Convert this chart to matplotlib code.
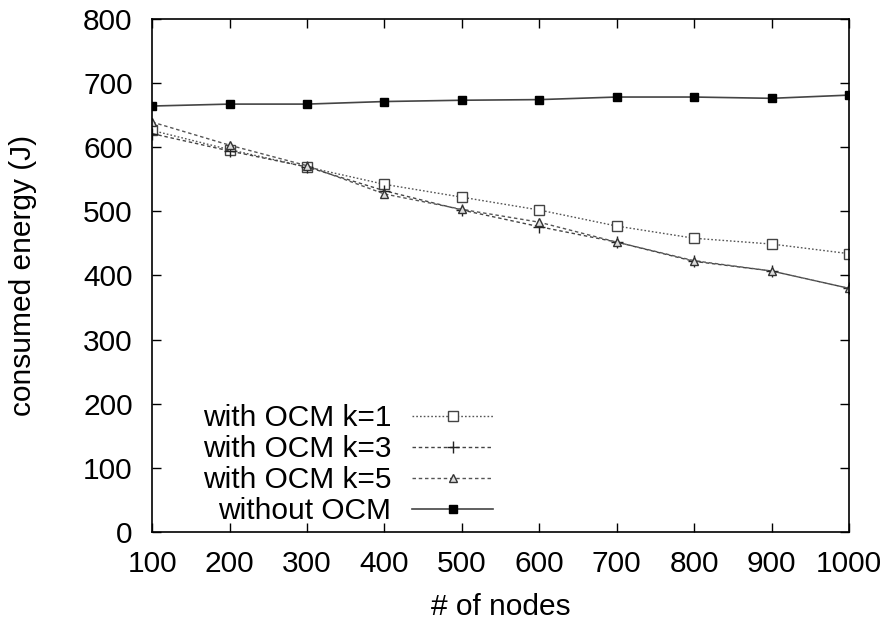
import matplotlib
matplotlib.use("Agg")
import matplotlib.pyplot as plt

plt.rcParams['font.family'] = ['Liberation Sans', 'DejaVu Sans']

nodes = [100, 200, 300, 400, 500, 600, 700, 800, 900, 1000]
ocm_k1 = [626, 596, 569, 542, 522, 502, 477, 458, 449, 434]
ocm_k3 = [621, 594, 569, 532, 502, 476, 452, 422, 407, 380]
ocm_k5 = [639, 603, 571, 527, 503, 483, 452, 423, 407, 380]
no_ocm = [664, 667, 667, 671, 673, 674, 678, 678, 676, 681]

xticks = list(range(100, 1001, 100))
yticks = list(range(0, 801, 100))

fs = 21.5

fig = plt.figure(figsize=(8.9, 6.24), dpi=100)
ax = fig.add_axes([0.171, 0.147, 0.783, 0.823])

ax.plot(nodes, ocm_k1, color="#555555", lw=1.0, ls=(0, (1.2, 1.5)),
        marker="s", ms=7, mfc="white", mec="#444444", mew=1.0, label="with OCM k=1")
ax.plot(nodes, ocm_k3, color="#444444", lw=1.0, ls=(0, (2.5, 2)),
        marker="+", ms=8, mec="#222222", mew=1.0, label="with OCM k=3")
ax.plot(nodes, ocm_k5, color="#555555", lw=1.0, ls=(0, (2.5, 2)),
        marker="^", ms=6, mfc="#dddddd", mec="#333333", mew=1.0, label="with OCM k=5")
ax.plot(nodes, no_ocm, color="#444444", lw=1.2, ls="-",
        marker="s", ms=6, mfc="black", mec="black", label="without OCM")

ax.set_xlim(100, 1000)
ax.set_ylim(0, 800)
ax.set_xticks(xticks)
ax.set_yticks(yticks)
ax.tick_params(direction="in", length=6.5, width=1, labelsize=fs,
               top=True, right=True)
ax.tick_params(axis="x", pad=13)
ax.tick_params(axis="y", pad=14)
for s in ax.spines.values():
    s.set_linewidth(1.2)

ax.set_xlabel("# of nodes", fontsize=fs)
ax.set_ylabel("consumed energy (J)", fontsize=fs)
ax.xaxis.set_label_coords(0.5, -0.118)
ax.yaxis.set_label_coords(-0.165, 0.5)

ax.legend(loc="lower right", bbox_to_anchor=(0.489, 0.014), frameon=False,
          markerfirst=False, fontsize=fs, handlelength=2.7, handletextpad=0.7,
          labelspacing=0.1, borderpad=0, borderaxespad=0)

fig.savefig("out.png", dpi=100)
